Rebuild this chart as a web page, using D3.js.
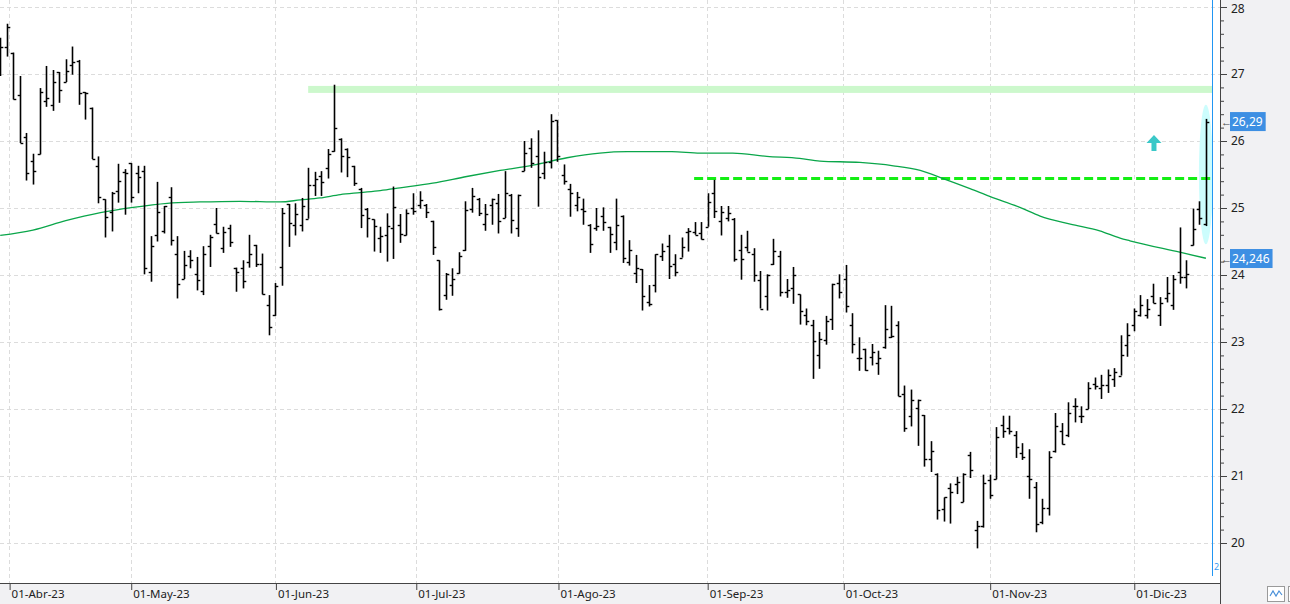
<!DOCTYPE html>
<html><head><meta charset="utf-8">
<script src="https://cdn.jsdelivr.net/npm/d3@7"></script>
<style>
body{margin:0;background:#fff;}
svg{display:block;font-family:"Noto Sans","Open Sans",sans-serif;}
</style>
</head><body>
<svg id="c" width="1290" height="604"></svg>
<script>
// ---------- DATA ----------
const opens = [27.06,27.40,27.32,26.68,26.06,25.70,25.80,26.59,26.54,27.03,26.88,27.13,27.20,26.73,26.50,25.63,25.13,24.94,25.25,25.53,
25.67,25.52,25.55,24.05,24.60,24.66,25.17,24.32,23.94,24.29,24.01,23.76,24.43,24.76,24.40,24.70,24.11,24.10,24.19,24.45,
24.16,23.55,23.41,24.12,25.06,24.75,24.74,24.84,25.35,25.48,25.59,25.85,26.03,25.88,25.62,25.29,24.98,24.83,24.55,24.59,
24.70,24.74,24.59,25.00,25.05,25.04,24.81,24.22,23.70,23.85,24.03,24.37,24.99,25.14,24.76,25.05,25.07,24.85,25.20,24.70,
25.55,25.89,25.77,25.52,25.69,26.31,25.50,25.29,25.05,24.98,24.75,24.70,24.88,24.71,24.49,24.88,24.20,24.03,24.09,23.59,
23.85,24.29,24.44,24.16,24.26,24.64,24.64,24.62,24.72,25.22,24.81,24.85,24.84,24.37,24.42,24.32,23.92,23.69,24.17,24.29,
23.74,23.80,23.71,23.41,23.25,22.80,23.03,23.35,23.88,23.94,23.26,22.76,22.89,22.77,22.69,22.92,23.07,23.25,22.22,21.90,
22.01,21.91,21.25,21.03,20.51,20.82,20.88,20.61,21.31,20.20,20.25,20.94,20.95,21.76,21.71,21.61,21.34,21.00,20.84,20.31,
20.52,21.37,21.67,21.61,22.04,21.90,22.00,22.38,22.31,22.36,22.45,22.50,22.95,23.25,23.41,23.41,23.69,23.40,23.65,23.55,
24.05,23.97,24.45,24.98,24.76];
const highs = [27.54,27.75,27.32,26.97,26.12,25.81,26.79,27.12,27.06,27.03,27.22,27.41,27.21,26.73,26.50,25.77,25.13,25.24,25.66,25.58,
25.67,25.63,25.63,24.58,25.39,25.03,25.31,24.58,24.36,24.37,24.27,24.43,24.60,25.00,24.72,24.75,24.11,24.22,24.60,24.45,
24.32,23.70,23.88,25.00,25.06,25.07,25.15,25.60,25.54,25.55,25.88,26.84,26.04,25.89,25.63,25.30,25.00,24.83,24.72,24.92,
25.32,24.91,24.98,25.22,25.25,25.06,24.81,24.22,24.03,24.10,24.34,25.10,25.30,25.15,25.06,25.14,25.21,25.55,25.21,25.20,
26.00,26.04,26.16,25.84,26.40,26.31,25.65,25.36,25.24,25.14,24.76,25.00,25.01,24.72,25.14,24.89,24.52,24.30,24.09,23.85,
24.31,24.47,24.60,24.31,24.56,24.70,24.79,24.79,25.22,25.42,25.03,25.03,24.85,24.60,24.66,24.40,24.06,24.01,24.54,24.36,
23.94,24.12,23.71,23.50,23.33,23.15,23.39,23.87,24.01,24.15,23.43,23.07,22.90,22.97,22.87,23.55,23.54,23.31,22.35,22.29,
22.14,21.91,21.52,21.04,20.68,20.89,20.99,21.04,21.36,20.33,21.02,21.02,21.73,21.90,21.90,21.67,21.49,21.40,20.91,20.66,
21.37,21.94,21.79,22.10,22.16,22.04,22.40,22.47,22.51,22.59,22.61,23.10,23.28,23.50,23.70,23.64,23.87,23.67,23.97,24.00,
24.71,24.22,24.99,25.10,26.33];
const lows = [26.97,27.26,26.62,25.97,25.41,25.35,25.80,26.51,26.45,26.57,26.88,26.99,26.54,26.32,25.73,25.07,24.56,24.65,25.08,24.90,
25.08,25.22,24.01,23.90,24.50,24.62,24.44,23.65,23.94,24.10,23.77,23.70,24.12,24.62,24.33,24.42,23.75,23.80,24.11,24.12,
23.71,23.10,23.39,23.84,24.42,24.59,24.65,24.84,25.18,25.18,25.44,25.84,25.53,25.46,25.33,24.70,24.56,24.35,24.33,24.20,
24.24,24.48,24.59,24.90,24.99,24.85,24.30,23.47,23.63,23.69,24.02,24.36,24.93,24.88,24.66,24.75,24.62,24.85,24.62,24.57,
25.55,25.60,25.02,25.43,25.59,25.69,25.35,24.87,24.95,24.75,24.33,24.66,24.66,24.33,24.37,24.18,24.14,23.88,23.47,23.53,
23.74,24.21,23.94,23.98,24.26,24.35,24.60,24.53,24.72,24.85,24.59,24.80,24.20,23.93,24.35,23.90,23.50,23.47,24.15,23.68,
23.66,23.57,23.26,23.25,22.45,22.60,22.96,23.18,23.65,23.44,22.83,22.57,22.57,22.65,22.51,22.90,23.06,22.19,21.66,21.74,
21.45,21.14,21.06,20.35,20.32,20.29,20.73,20.61,20.97,19.92,20.23,20.66,20.95,21.57,21.62,21.27,21.24,20.66,20.16,20.28,
20.41,21.35,21.47,21.58,21.80,21.79,22.00,22.29,22.15,22.24,22.33,22.50,22.78,23.16,23.38,23.35,23.58,23.24,23.59,23.48,
23.87,23.80,24.44,24.75,24.73];
const closes = [27.40,27.70,26.62,25.97,25.52,25.55,26.73,26.64,26.88,26.76,27.05,27.18,26.71,26.71,25.73,25.16,24.86,25.23,25.41,25.52,
25.16,25.46,24.11,24.44,24.94,25.03,24.52,23.86,24.15,24.23,23.92,24.31,24.57,24.62,24.64,24.49,24.04,23.91,24.32,24.16,
23.71,23.22,23.83,24.93,24.77,24.91,25.03,25.35,25.43,25.39,25.80,26.20,25.77,25.76,25.37,24.89,24.85,24.73,24.58,24.73,
25.01,24.61,24.92,24.95,25.12,24.94,24.42,23.50,24.02,23.94,24.29,24.97,25.18,24.92,24.91,25.14,24.80,25.22,24.82,25.20,
25.82,25.67,25.46,25.68,26.30,25.77,25.41,25.23,25.16,24.95,24.46,24.73,24.79,24.61,24.74,24.25,24.37,24.10,23.68,23.57,
24.31,24.36,24.13,24.05,24.42,24.66,24.60,24.54,25.09,24.95,24.94,24.92,24.24,24.24,24.35,24.00,23.50,24.00,24.36,23.74,
23.78,24.00,23.47,23.32,23.01,23.04,23.32,23.86,23.75,23.53,22.97,22.76,22.58,22.85,22.76,23.20,23.09,22.19,21.71,22.14,
22.13,21.25,21.37,20.49,20.68,20.76,20.91,21.03,21.09,20.25,20.89,20.71,21.58,21.67,21.67,21.43,21.29,20.95,20.28,20.52,
21.29,21.75,21.48,21.94,22.04,21.90,22.31,22.34,22.36,22.51,22.55,22.81,23.10,23.47,23.55,23.50,23.58,23.58,23.73,23.94,
23.97,24.01,24.69,24.85,26.29];

// moving average, read at sample bar positions
const maIdx = [0,5,10,15.3,20.3,25.5,30.5,36.6,42.7,45.8,48.8,51.9,54.9,58,61,66,71.2,76.3,81.3,86.5,91.5,95.7,102.5,106.8,111.8,117,122,125.1,131.2,136.3,140.4,143.9,148,151.1,155.6,158.7,163.3,167.8,170.9,172.4,180,184];
const maVal = [24.59,24.67,24.81,24.93,25.01,25.07,25.09,25.10,25.09,25.12,25.15,25.20,25.23,25.26,25.30,25.37,25.47,25.56,25.64,25.75,25.82,25.84,25.84,25.82,25.82,25.77,25.74,25.70,25.68,25.63,25.56,25.44,25.29,25.17,25.01,24.88,24.76,24.66,24.55,24.51,24.34,24.25];
const maLast = 24.246;

// month ticks (bar-index positions) and labels
const tickIdx = [1.36,19.92,42.0,63.42,85.12,107.89,128.66,151.0,172.99];
const tickLabels = ["01-Abr-23","01-May-23","01-Jun-23","01-Jul-23","01-Ago-23","01-Sep-23","01-Oct-23","01-Nov-23","01-Dic-23"];

const yMajor = [20,21,22,23,24,25,26,27,28];
const bandLevel = 26.77, bandStart = 47;      // light green resistance band
const dashLevel = 25.44, dashStart = 105.9;   // dashed green support line
const nowIdx = 185;                             // blue cursor line
const arrowIdx = 176, arrowLevel = 25.85;
const ellipseTop = 26.54, ellipseBottom = 24.46;

// ---------- CHART ----------
const W = 1290, H = 604, plotR = 1220, plotB = 583;
const svg = d3.select("#c");
const x = d3.scaleLinear().domain([0, 184]).range([0.2, 1205.9]);
const y = d3.scaleLinear().domain([20, 28]).range([543, 7]);
const fmt = v => String(v).replace(".", ",");

// backgrounds
svg.append("rect").attr("width", W).attr("height", H).attr("fill", "#f1f1f3");
svg.append("rect").attr("width", plotR).attr("height", plotB).attr("fill", "#ffffff");

// grid
const grid = svg.append("g").attr("stroke", "#dcdcdc").attr("stroke-dasharray", "4,3").attr("shape-rendering", "crispEdges");
yMajor.forEach(v => grid.append("line").attr("x1", 0).attr("x2", plotR).attr("y1", Math.round(y(v)) + 0.5).attr("y2", Math.round(y(v)) + 0.5));
tickIdx.forEach(t => grid.append("line").attr("x1", Math.round(x(t)) + 0.5).attr("x2", Math.round(x(t)) + 0.5).attr("y1", 0).attr("y2", plotB));

// ellipse highlight around last bar
svg.append("ellipse").attr("cx", x(184)).attr("cy", (y(ellipseTop) + y(ellipseBottom)) / 2)
  .attr("rx", 7).attr("ry", (y(ellipseBottom) - y(ellipseTop)) / 2).attr("fill", "#ccfdfd");

// band
svg.append("rect").attr("x", x(bandStart)).attr("width", x(nowIdx) - x(bandStart))
  .attr("y", y(bandLevel) - 3.5).attr("height", 7).attr("fill", "#ccf8cc");

// dashed support
svg.append("line").attr("x1", x(dashStart)).attr("x2", x(nowIdx)).attr("y1", y(dashLevel)).attr("y2", y(dashLevel))
  .attr("stroke", "#14ee14").attr("stroke-width", 3).attr("stroke-dasharray", "9,4");

// moving average
svg.append("path").datum(maIdx.map((d, i) => [d, maVal[i]]))
  .attr("fill", "none").attr("stroke", "#0aa64a").attr("stroke-width", 1.3)
  .attr("d", d3.line().x(d => x(d[0])).y(d => y(d[1])).curve(d3.curveMonotoneX));

// OHLC bars
const bars = svg.append("g").attr("stroke", "#000");
opens.forEach((o, i) => {
  const cx = Math.round(x(i)) + 0.5;
  bars.append("line").attr("x1", cx).attr("x2", cx).attr("y1", y(highs[i])).attr("y2", y(lows[i])).attr("stroke-width", 1.6);
  bars.append("line").attr("x1", cx - 2.8).attr("x2", cx).attr("y1", Math.round(y(o)) + 0.5).attr("y2", Math.round(y(o)) + 0.5).attr("stroke-width", 1.4);
  bars.append("line").attr("x1", cx).attr("x2", cx + 2.8).attr("y1", Math.round(y(closes[i])) + 0.5).attr("y2", Math.round(y(closes[i])) + 0.5).attr("stroke-width", 1.4);
});

// cyan arrow
const ax = x(arrowIdx) + 0.5, ay = y(arrowLevel);
svg.append("path").attr("fill", "#3ac8c8")
  .attr("d", `M${ax},${ay - 16} L${ax + 7.5},${ay - 8} L${ax + 2.5},${ay - 8} L${ax + 2.5},${ay} L${ax - 2.5},${ay} L${ax - 2.5},${ay - 8} L${ax - 7.5},${ay - 8} Z`);

// blue cursor line
svg.append("line").attr("x1", Math.round(x(nowIdx)) + 0.5).attr("x2", Math.round(x(nowIdx)) + 0.5).attr("y1", 0).attr("y2", 576)
  .attr("stroke", "#2196f3").attr("stroke-width", 1).attr("shape-rendering", "crispEdges");
svg.append("text").attr("x", Math.round(x(nowIdx)) + 2).attr("y", 570).attr("font-size", 9).attr("fill", "#3a9af0").text("2");

// right axis
const yAxisG = svg.append("g").attr("transform", `translate(${plotR},0)`);
const minorVals = d3.range(0, 41).map(k => 20 + k * 0.2).filter(v => Math.abs(v - Math.round(v)) > 0.01);
yAxisG.call(d3.axisRight(y).tickValues(minorVals).tickSize(4).tickFormat(""));
yAxisG.call(g => g.select(".domain").remove());
const yMaj = svg.append("g").attr("transform", `translate(${plotR},0)`)
  .call(d3.axisRight(y).tickValues(yMajor).tickSize(7).tickPadding(4).tickFormat(d3.format("d")));
yMaj.select(".domain").remove();
svg.selectAll("g.tick line").attr("stroke", "#444");
yMaj.selectAll("text").attr("font-size", 12).attr("fill", "#222").attr("font-family", "Noto Sans, sans-serif")
  .attr("dy", d => d === 28 ? "0.45em" : "0.32em");
svg.append("line").attr("x1", plotR + 0.5).attr("x2", plotR + 0.5).attr("y1", 0).attr("y2", H).attr("stroke", "#444").attr("shape-rendering", "crispEdges");

// bottom axis
const xAxisG = svg.append("g").attr("transform", `translate(0,${plotB})`)
  .call(d3.axisBottom(x).tickValues(tickIdx).tickSize(7).tickFormat((d, i) => tickLabels[i]));
xAxisG.select(".domain").remove();
xAxisG.selectAll("line").attr("stroke", "#444").attr("transform", "translate(0.5,0)");
xAxisG.selectAll("text").attr("text-anchor", "start").attr("x", 2).attr("y", 7).attr("dy", "0.71em")
  .attr("font-size", 11.5).attr("fill", "#222").attr("font-family", "Noto Sans, sans-serif");
svg.append("line").attr("x1", 0).attr("x2", plotR).attr("y1", plotB + 0.5).attr("y2", plotB + 0.5).attr("stroke", "#444").attr("shape-rendering", "crispEdges");

// price labels on the axis
function priceTag(v, txt) {
  const cy = y(v);
  const g = svg.append("g");
  g.append("text").attr("x", plotR + 1).attr("y", cy + 4).attr("font-size", 11).attr("fill", "#444").text("←");
  const t = g.append("text").attr("x", plotR + 12).attr("y", cy + 4.5).attr("font-size", 12).attr("fill", "#fff").text(txt);
  const w = t.node().getComputedTextLength();
  g.insert("rect", "text:last-child").attr("x", plotR + 10).attr("y", cy - 9.5).attr("width", w + 5).attr("height", 19).attr("fill", "#3d8fe3");
}
priceTag(closes[closes.length - 1], fmt(closes[closes.length - 1]));
priceTag(maLast, fmt(maLast));

// small button bottom-right
const bx = 1267, by = 586;
svg.append("rect").attr("x", bx + 0.5).attr("y", by + 0.5).attr("width", 17).attr("height", 15).attr("fill", "#fff").attr("stroke", "#9a9a9a");
svg.append("path").attr("d", `M${bx + 3},${by + 10} L${bx + 6},${by + 5} L${bx + 9},${by + 10} L${bx + 12},${by + 5} L${bx + 15},${by + 9}`)
  .attr("fill", "none").attr("stroke", "#4a90d9").attr("stroke-width", 1.2);
svg.append("rect").attr("x", bx + 21.5).attr("y", by + 0.5).attr("width", 6).attr("height", 15).attr("fill", "#fff").attr("stroke", "#9a9a9a");
</script>
</body></html>
